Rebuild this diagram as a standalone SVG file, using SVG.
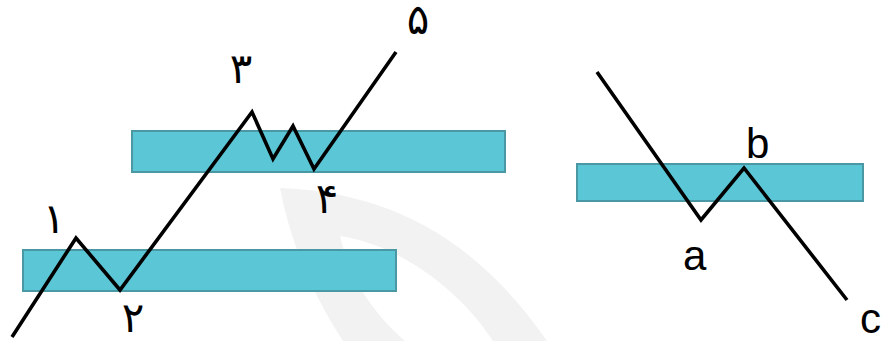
<svg xmlns="http://www.w3.org/2000/svg" width="885" height="341" viewBox="0 0 885 341">
  <style>
    .zone { fill: #5bc6d5; stroke: #4a98a3; stroke-width: 2; }
    .wave { fill: none; stroke: #000; stroke-width: 3.6; stroke-linejoin: miter; stroke-linecap: butt; }
    .num { font-family: "DejaVu Sans", "Noto Sans", sans-serif; font-size: 42px; fill: #000; text-anchor: middle; }
    .let { font-family: "Liberation Sans", Arial, sans-serif; font-size: 42px; fill: #000; }
  </style>
  <rect width="885" height="341" fill="#ffffff"/>

  <!-- faint background mark -->
  <path d="M 280 188 C 380 192, 470 230, 547 341 L 493 341 C 460 290, 400 245, 340 236 C 350 280, 375 315, 405 341 L 343 341 C 310 290, 290 240, 280 188 Z" fill="#f2f2f2"/>

  <!-- support / resistance zones -->
  <g id="zone-low"><rect class="zone" x="23" y="250" width="373" height="41"/></g>
  <g id="zone-high"><rect class="zone" x="132" y="131" width="373" height="41"/></g>
  <g id="zone-right"><rect class="zone" x="577" y="164" width="286" height="37"/></g>

  <!-- price paths -->
  <g id="connectors">
    <polyline class="wave" points="12,337 76,238 120,290 252,112 273,159 293,126 314,169 396,52"/>
    <polyline class="wave" points="597,72 701,220 744,168 847,300"/>
  </g>

  <!-- wave labels -->
  <g id="label-1"><text class="num" x="54" y="233">۱</text></g>
  <g id="label-2"><text class="num" x="133" y="332">۲</text></g>
  <g id="label-3"><text class="num" x="241" y="83">۳</text></g>
  <g id="label-4"><text class="num" x="327" y="213">۴</text></g>
  <g id="label-5"><text class="num" x="418" y="34">۵</text></g>

  <g id="label-a"><text class="let" x="683" y="270">a</text></g>
  <g id="label-b"><text class="let" x="746" y="158">b</text></g>
  <g id="label-c"><text class="let" x="860" y="333">c</text></g>
</svg>
